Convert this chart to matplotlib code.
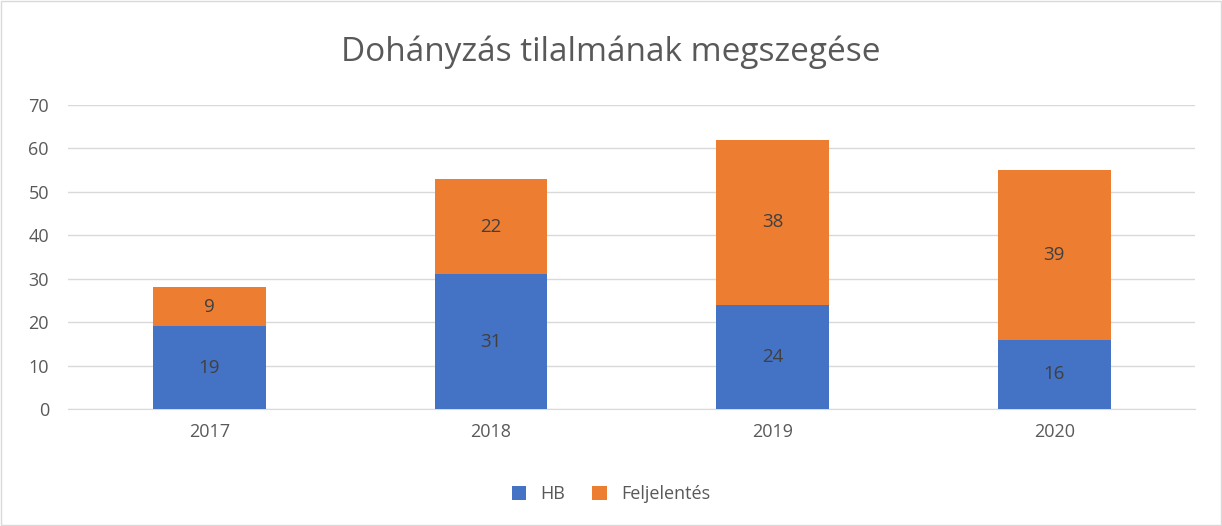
import matplotlib
matplotlib.use("Agg")
import matplotlib.pyplot as plt
import numpy as np

years = ["2017", "2018", "2019", "2020"]
hb = [19, 31, 24, 16]
feljelentes = [9, 22, 38, 39]
yticks = [0, 10, 20, 30, 40, 50, 60, 70]

plt.rcParams['font.family'] = ['Open Sans', 'DejaVu Sans']
txt = '#595959'

fig = plt.figure(figsize=(12.22, 5.26), dpi=100)
ax = fig.add_axes([0.056, 0.2224, 0.922, 0.578])
x = np.arange(len(years))
w = 0.4
b1 = ax.bar(x, hb, w, color='#4472C4', label='HB', zorder=3)
b2 = ax.bar(x, feljelentes, w, bottom=hb, color='#ED7D31', label='Feljelentés', zorder=3)
for rect, v in zip(b1, hb):
    ax.text(rect.get_x() + rect.get_width()/2, rect.get_y() + rect.get_height()/2, str(v),
            ha='center', va='center', fontsize=13.5, color='#404040', zorder=4)
for rect, v in zip(b2, feljelentes):
    ax.text(rect.get_x() + rect.get_width()/2, rect.get_y() + rect.get_height()/2, str(v),
            ha='center', va='center', fontsize=13.5, color='#404040', zorder=4)

ax.set_xlim(-0.5, 3.5)
ax.set_ylim(0, 70)
ax.set_yticks(yticks)
ax.set_xticks(x)
ax.set_xticklabels(years)
ax.yaxis.grid(True, color='#D9D9D9', linewidth=1, zorder=0)
for s in ['top', 'right', 'left']:
    ax.spines[s].set_visible(False)
ax.spines['bottom'].set_color('#D9D9D9')
ax.tick_params(axis='both', length=0, labelsize=13, colors=txt)
ax.tick_params(axis='x', pad=10)
ax.tick_params(axis='y', pad=14)

fig.text(0.5, 0.9, 'Dohányzás tilalmának megszegése', ha='center', va='center',
         fontsize=24, color=txt)
fig.legend(loc='center', bbox_to_anchor=(0.5, 0.06), ncol=2, frameon=False,
           fontsize=13, labelcolor=txt, handlelength=0.8, handleheight=0.8, columnspacing=1.5)
fig.patches.append(plt.Rectangle((0.001, 0.001), 0.998, 0.998, transform=fig.transFigure,
                                 fill=False, edgecolor='#D9D9D9', linewidth=1))
fig.savefig('out.png', dpi=100)
